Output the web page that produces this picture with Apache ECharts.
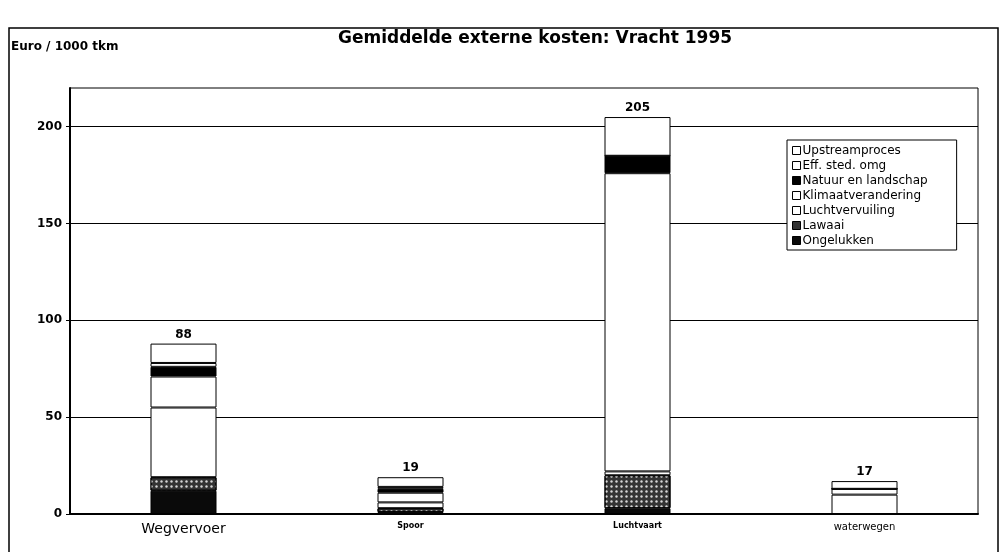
<!DOCTYPE html>
<html>
<head>
<meta charset="utf-8">
<script src="https://cdn.jsdelivr.net/npm/echarts@6/dist/echarts.min.js"></script>
<style>
  html, body { margin: 0; padding: 0; background: #fff; }
  #tu1 { width: 1003px; height: 552px; }
</style>
</head>
<body>
<div id="tu1"></div>
<script>
    // categorieen en kosten per onderdeel (euro / 1000 tkm)
    var categories = ['Wegvervoer', 'Spoor', 'Luchtvaart', 'waterwegen'];
    var ongelukken = [12, 1, 3, 0];
    var lawaai = [7, 2, 17, 0];
    var luchtvervuiling = [36, 3, 2, 10];
    var klimaat = [16, 5, 154, 3];
    var natuur = [5, 2, 9, 0];
    var effSted = [2, 1, 0, 0];
    var upstream = [10, 5, 20, 4];
    var totals = [88, 19, 205, 17];
    var yTicks = [0, 50, 100, 150, 200];

    var myChart1 = echarts.init(document.getElementById('tu1'));

    function laag(name, data, color, decal) {
        var s = {
            name: name,
            type: 'bar',
            stack: 'kosten',
            barWidth: 66,
            data: data,
            itemStyle: {
                color: color,
                borderColor: '#000',
                borderWidth: 1
            }
        };
        if (decal) {
            s.itemStyle.decal = decal;
        }
        return s;
    }

    var series1 = [
        laag('Ongelukken', ongelukken, '#0a0a0a'),
        laag('Lawaai', lawaai, '#333', {
            symbol: 'circle',
            symbolSize: 0.8,
            color: 'rgba(255,255,255,0.8)',
            dashArrayX: [3, 2],
            dashArrayY: [3, 2]
        }),
        laag('Luchtvervuiling', luchtvervuiling, '#fff'),
        laag('Klimaatverandering', klimaat, '#fff'),
        laag('Natuur en landschap', natuur, '#000'),
        laag('Eff. sted. omg', effSted, '#fff'),
        laag('Upstreamproces', upstream, '#fff'),
        {
            name: 'totaal',
            type: 'bar',
            stack: 'kosten',
            barWidth: 66,
            data: totals.map(function () { return 0; }),
            itemStyle: { color: 'transparent' },
            label: {
                show: true,
                position: 'top',
                distance: 3,
                color: '#000',
                fontSize: 12,
                fontWeight: 'bold',
                fontFamily: 'DejaVu Sans',
                formatter: function (p) { return totals[p.dataIndex]; }
            }
        }
    ];

    var option1 = {
        animation: false,
        backgroundColor: '#fff',
        title: {
            text: 'Gemiddelde externe kosten: Vracht 1995',
            left: 530,
            top: 25,
            textAlign: 'center',
            textStyle: {
                fontFamily: 'DejaVu Sans',
                fontSize: 17,
                fontWeight: 'bold',
                color: '#000'
            }
        },
        graphic: [
            {
                type: 'rect',
                shape: { x: 9, y: 28, width: 989, height: 530 },
                style: { fill: 'none', stroke: '#000', lineWidth: 1.5 }
            },
            {
                type: 'text',
                left: 11,
                top: 41,
                style: {
                    text: 'Euro / 1000 tkm',
                    fontFamily: 'DejaVu Sans',
                    fontSize: 12,
                    fontWeight: 'bold',
                    fill: '#000'
                }
            }
        ],
        legend: {
            orient: 'vertical',
            left: 787,
            top: 140,
            width: 170,
            padding: [4, 29, 3, 5],
            itemGap: 2,
            itemWidth: 8,
            itemHeight: 8,
            icon: 'rect',
            backgroundColor: '#fff',
            borderColor: '#000',
            borderWidth: 1,
            borderRadius: 0,
            data: ['Upstreamproces', 'Eff. sted. omg', 'Natuur en landschap', 'Klimaatverandering',
                'Luchtvervuiling', 'Lawaai', 'Ongelukken'],
            itemStyle: { borderColor: '#000', borderWidth: 1, decal: 'none' },
            textStyle: {
                fontFamily: 'DejaVu Sans',
                fontSize: 12,
                color: '#000',
                lineHeight: 13,
                padding: [0, 0, 0, -3]
            }
        },
        grid: {
            left: 70,
            right: 25,
            top: 88,
            bottom: 38,
            show: true,
            borderColor: '#000',
            borderWidth: 1
        },
        xAxis: {
            type: 'category',
            data: categories,
            axisLine: { lineStyle: { color: '#000', width: 2 } },
            axisTick: { show: false },
            axisLabel: {
                color: '#000',
                margin: 8,
                formatter: function (v, i) {
                    var st = ['a', 'b', 'b', 'c'][i];
                    return '{' + st + '|' + v + '}';
                },
                rich: {
                    a: { fontSize: 14, fontFamily: 'DejaVu Sans', color: '#000' },
                    b: { fontSize: 8, fontFamily: 'DejaVu Sans', color: '#000', fontWeight: 'bold' },
                    c: { fontSize: 10, fontFamily: 'DejaVu Sans', color: '#000' }
                }
            }
        },
        yAxis: {
            type: 'value',
            min: 0,
            max: 220,
            interval: 50,
            axisLine: { show: true, lineStyle: { color: '#000', width: 2 } },
            axisTick: { show: true, length: 4, customValues: yTicks, lineStyle: { color: '#000' } },
            splitLine: { lineStyle: { color: '#000', width: 1 } },
            axisLabel: {
                color: '#000',
                fontSize: 12,
                fontWeight: 'bold',
                fontFamily: 'DejaVu Sans',
                margin: 8,
                customValues: yTicks
            }
        },
        series: series1
    };
    myChart1.setOption(option1);
</script>
</body>
</html>
